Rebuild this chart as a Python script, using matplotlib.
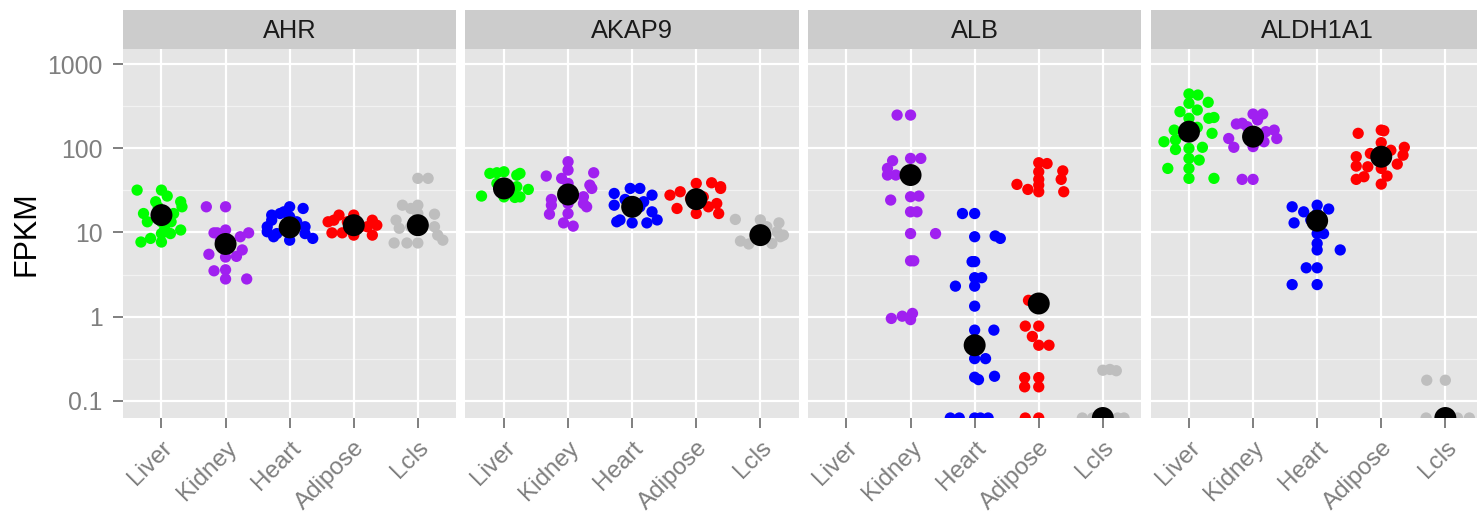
import numpy as np
import matplotlib
matplotlib.use("Agg")
from matplotlib import pyplot as plt
from matplotlib.transforms import ScaledTranslation

plt.rcParams["font.family"] = ["Liberation Sans", "DejaVu Sans"]

genes = ["AHR", "AKAP9", "ALB", "ALDH1A1"]
tissues = ["Liver", "Kidney", "Heart", "Adipose", "Lcls"]
tissue_colors = ["#00FF00", "#A020F0", "#0000FF", "#FF0000", "#BEBEBE"]
yticks = [0.1, 1, 10, 100, 1000]
ytick_labels = ["0.1", "1", "10", "100", "1000"]
floor = 0.0622  # lowest FPKM shown (zero expression)

# FPKM per sample; jitter = horizontal offset in category units
AHR_VALUES = {
    "Liver": [31.9, 31.9, 27.1, 23.2, 23.2, 20.2, 16.8, 16.8, 13.4, 13.4, 10.7, 9.7, 9.7, 8.5, 7.7, 7.7, 13.4, 20.0, 11.0],
    "Kidney": [20.2, 20.2, 9.9, 10.7, 9.9, 8.9, 6.2, 5.2, 5.1, 5.5, 3.5, 3.6, 2.8, 2.8, 8.1, 9.9],
    "Heart": [16.1, 16.8, 20.2, 19.3, 11.7, 14.0, 15.4, 11.7, 10.2, 8.9, 8.1, 9.7, 8.5, 13.4, 9.7, 17.6],
    "Adipose": [14.0, 16.1, 16.1, 14.0, 12.2, 9.3, 9.3, 9.9, 9.9, 11.7, 13.4, 11.7, 13.4],
    "Lcls": [44, 44, 21.1, 21.1, 19.3, 14.0, 16.5, 11.2, 11.7, 9.3, 8.1, 7.5, 7.5, 7.5, 11.7, 16.8],
}
AHR_JITTER = {
    "Liver": [-0.38, 0.0, 0.09, -0.09, 0.30, 0.32, -0.28, 0.19, -0.22, 0.0, 0.30, 0.14, 0.0, -0.17, -0.32, 0.0, 0.15, -0.05, 0.05],
    "Kidney": [-0.30, 0.0, -0.18, 0.0, 0.36, 0.23, 0.26, 0.17, 0.0, -0.26, -0.18, 0.0, 0.0, 0.33, -0.08, -0.13],
    "Heart": [-0.28, -0.15, 0.0, 0.21, -0.35, -0.28, 0.0, 0.24, -0.35, -0.25, 0.0, 0.24, 0.36, 0.11, -0.20, -0.09],
    "Adipose": [-0.31, -0.23, 0.0, 0.29, 0.36, 0.29, 0.0, -0.18, -0.34, 0.10, -0.10, 0.21, -0.40],
    "Lcls": [0.0, 0.16, -0.24, 0.0, -0.11, -0.34, 0.26, -0.29, 0.26, 0.31, 0.39, -0.37, -0.17, 0.0, -0.11, 0.0],
}
AHR_MEDIAN = [16.1, 7.3, 11.5, 12.2, 12.2]

AKAP9_VALUES = {
    "Liver": [50.4, 52.7, 48, 50.4, 27.1, 32.5, 26.5, 26.1, 26.5, 38.3, 35, 51.3],
    "Kidney": [69.4, 55.2, 44, 46.9, 51.3, 36.6, 33.4, 24.7, 26.6, 21.1, 20.2, 16.5, 16.8, 13.0, 11.9, 22.1, 22.1, 38.3],
    "Heart": [29.1, 33.4, 33.4, 27.8, 21.1, 24.7, 23.2, 17.6, 13.4, 13.0, 13.0, 14.1, 14.1, 20.2],
    "Adipose": [38.3, 39, 33.4, 27.8, 30.5, 19.3, 16.8, 20.2, 22.1, 16.8, 26.5, 25.4, 35],
    "Lcls": [14.3, 14.1, 13.0, 9.3, 7.9, 7.3, 7.4, 10.2, 11.7, 8.9],
}
AKAP9_JITTER = {
    "Liver": [-0.22, 0.0, 0.20, 0.25, -0.35, 0.38, 0.0, 0.17, 0.25, -0.11, 0.20, -0.11],
    "Kidney": [0.0, 0.0, -0.10, -0.34, 0.40, 0.34, 0.37, -0.26, 0.24, -0.26, 0.29, -0.29, 0.0, -0.07, 0.08, 0.0, 0.24, 0.0],
    "Heart": [-0.28, -0.03, 0.12, 0.31, -0.28, -0.11, 0.18, 0.31, -0.24, 0.0, 0.23, 0.39, -0.19, 0.12],
    "Adipose": [0.0, 0.24, 0.38, -0.41, -0.25, -0.30, 0.0, 0.19, 0.32, 0.35, 0.11, -0.09, 0.38],
    "Lcls": [-0.39, 0.0, 0.29, 0.36, -0.31, -0.18, 0.18, 0.26, 0.10, 0.31],
}
AKAP9_MEDIAN = [33.4, 28.3, 20.2, 24.9, 9.3]

ALB_VALUES = {
    "Liver": [],
    "Kidney": [249, 249, 71.3, 76, 76, 57.8, 48.2, 48.2, 24.3, 26.6, 27.1, 17.6, 17.6, 9.7, 9.7, 4.6, 4.6, 0.95, 1.01, 1.09, 0.92],
    "Heart": [16.8, 16.8, 8.9, 9.1, 8.5, 4.5, 4.5, 2.9, 2.9, 2.3, 2.3, 1.33, 0.69, 0.69, 0.316, 0.316, 0.19, 0.178, 0.195,
              floor, floor, floor, floor, floor],
    "Adipose": [67.5, 66, 52.7, 54, 42.8, 42.8, 37.3, 32.5, 30.5, 30.5, 36.6, 1.56, 0.77, 0.77, 0.58, 0.456, 0.456,
                0.188, 0.188, 0.146, 0.146, floor, floor],
    "Lcls": [0.23, 0.235, 0.227, floor, floor, floor, floor, floor],
}
ALB_JITTER = {
    "Liver": [],
    "Kidney": [-0.21, 0.0, -0.28, 0.0, 0.16, -0.36, -0.36, -0.23, -0.31, 0.0, 0.13, 0.0, 0.10, 0.0, 0.39, 0.0, 0.05, -0.30, -0.13, 0.03, 0.0],
    "Heart": [-0.19, 0.0, 0.0, 0.32, 0.40, -0.04, 0.0, 0.0, 0.11, -0.30, 0.0, 0.0, 0.0, 0.30, 0.0, 0.17, 0.0, 0.06, 0.31,
              -0.38, -0.24, 0.0, 0.21, 0.09],
    "Adipose": [0.0, 0.13, 0.0, 0.375, 0.35, 0.0, -0.34, -0.17, 0.0, 0.39, 0.0, -0.16, -0.21, 0.0, -0.10, 0.0, 0.16,
                -0.22, 0.0, -0.22, 0.0, -0.21, 0.0],
    "Lcls": [0.0, 0.11, 0.21, -0.32, -0.16, 0.23, 0.33, 0.0],
}
ALB_MEDIAN = [None, 48.2, 0.456, 1.43, floor]

ALDH1A1_VALUES = {
    "Liver": [444, 431, 353, 344, 273, 286, 228, 228, 233, 165, 173, 178, 151, 120, 126, 97, 100, 103, 76, 72.6, 57.8, 57.8, 44, 44],
    "Kidney": [256, 256, 195, 199, 131, 103, 158, 165, 131, 120, 105, 42.8, 42.8, 181, 138, 218],
    "Heart": [20.2, 17.6, 21.1, 19.0, 13.0, 16.8, 9.7, 7.4, 6.2, 6.2, 3.8, 3.8, 2.4, 2.4, 14.1, 9.7],
    "Adipose": [151, 165, 162, 117, 103, 83, 79.6, 87, 61.6, 60.4, 65, 57.8, 46, 42.8, 46.9, 37.6, 95],
    "Lcls": [0.175, 0.175, floor, floor, floor, floor],
}
ALDH1A1_JITTER = {
    "Liver": [0.0, 0.14, 0.30, 0.0, -0.14, 0.13, 0.0, 0.31, 0.39, -0.23, 0.0, 0.13, 0.36, -0.39, -0.21, -0.21, 0.0, 0.21, 0.0, 0.16, -0.33, 0.0, 0.0, 0.39],
    "Kidney": [0.0, 0.15, -0.26, -0.17, -0.38, -0.30, 0.20, 0.33, 0.37, 0.17, 0.0, -0.17, 0.0, -0.09, 0.12, 0.07],
    "Heart": [-0.39, -0.21, 0.0, 0.18, -0.36, 0.0, 0.10, 0.0, 0.0, 0.36, -0.17, 0.0, -0.39, 0.0, -0.10, 0.0],
    "Adipose": [-0.36, 0.0, 0.04, 0.0, 0.36, 0.34, -0.39, -0.17, -0.39, -0.21, 0.25, 0.0, -0.27, -0.39, 0.09, 0.0, 0.15],
    "Lcls": [-0.29, 0.0, -0.30, 0.0, 0.19, 0.375],
}
ALDH1A1_MEDIAN = [158, 138, 13.8, 79.6, floor]

gene_values = [AHR_VALUES, AKAP9_VALUES, ALB_VALUES, ALDH1A1_VALUES]
gene_jitter = [AHR_JITTER, AKAP9_JITTER, ALB_JITTER, ALDH1A1_JITTER]
gene_median = [AHR_MEDIAN, AKAP9_MEDIAN, ALB_MEDIAN, ALDH1A1_MEDIAN]

W, H = 1477, 523
fig = plt.figure(figsize=(W / 100, H / 100), dpi=100)

grey50 = "#7F7F7F"
for g, gene in enumerate(genes):
    left = 123 + g * 342.5
    ax = fig.add_axes([left / W, (H - 418) / H, 333.3 / W, 369 / H])
    ax.set_facecolor("#E5E5E5")
    ax.set_yscale("log")
    ax.set_xlim(0.4, 5.6)
    ax.set_ylim(floor, 1520)
    for s in ax.spines.values():
        s.set_visible(False)

    # grid: minor at half decades, major at decades and categories
    for k in range(-1, 4):
        ax.axhline(10 ** (k + 0.5), color="#F2F2F2", lw=0.9, zorder=0)
        ax.axhline(10 ** k, color="white", lw=1.6, zorder=0)
    for i in range(len(tissues)):
        ax.axvline(i + 1, color="white", lw=1.6, zorder=0)

    for i, t in enumerate(tissues):
        vals = gene_values[g][t]
        jit = gene_jitter[g][t]
        if len(vals):
            ax.scatter(np.array(jit) + i + 1, vals, s=66, color=tissue_colors[i],
                       edgecolors="none", zorder=2)
    med = gene_median[g]
    mx = [i + 1 for i in range(len(tissues)) if med[i] is not None]
    my = [m for m in med if m is not None]
    ax.scatter(mx, my, s=250, color="black", edgecolors="none", zorder=3)

    ax.set_xticks(range(1, len(tissues) + 1))
    ax.set_xticklabels(tissues, rotation=45, ha="right", va="top",
                       rotation_mode="anchor", fontsize=17.5, color=grey50)
    for lab in ax.get_xticklabels():
        lab.set_transform(lab.get_transform() + ScaledTranslation(6 / 100, -2 / 100, fig.dpi_scale_trans))
    ax.tick_params(axis="x", length=7.5, width=1.4, color=grey50, pad=6)
    ax.set_yticks(yticks)
    ax.yaxis.set_minor_locator(matplotlib.ticker.NullLocator())
    if g == 0:
        ax.set_yticklabels(ytick_labels, fontsize=17.8, color=grey50)
        ax.tick_params(axis="y", length=7.2, width=1.4, color=grey50, pad=7.5)
        ax.set_ylabel("FPKM", fontsize=22, color="black", labelpad=4)
    else:
        ax.tick_params(axis="y", length=0, labelleft=False)

    # facet strip
    sx = fig.add_axes([left / W, (H - 49) / H, 333.3 / W, 39 / H])
    sx.set_facecolor("#CCCCCC")
    sx.set_xticks([])
    sx.set_yticks([])
    for s in sx.spines.values():
        s.set_visible(False)
    sx.text(0.5, 0.47, gene, transform=sx.transAxes, ha="center", va="center",
            fontsize=18.3, color="#1A1A1A")

fig.savefig("out.png", dpi=100)
